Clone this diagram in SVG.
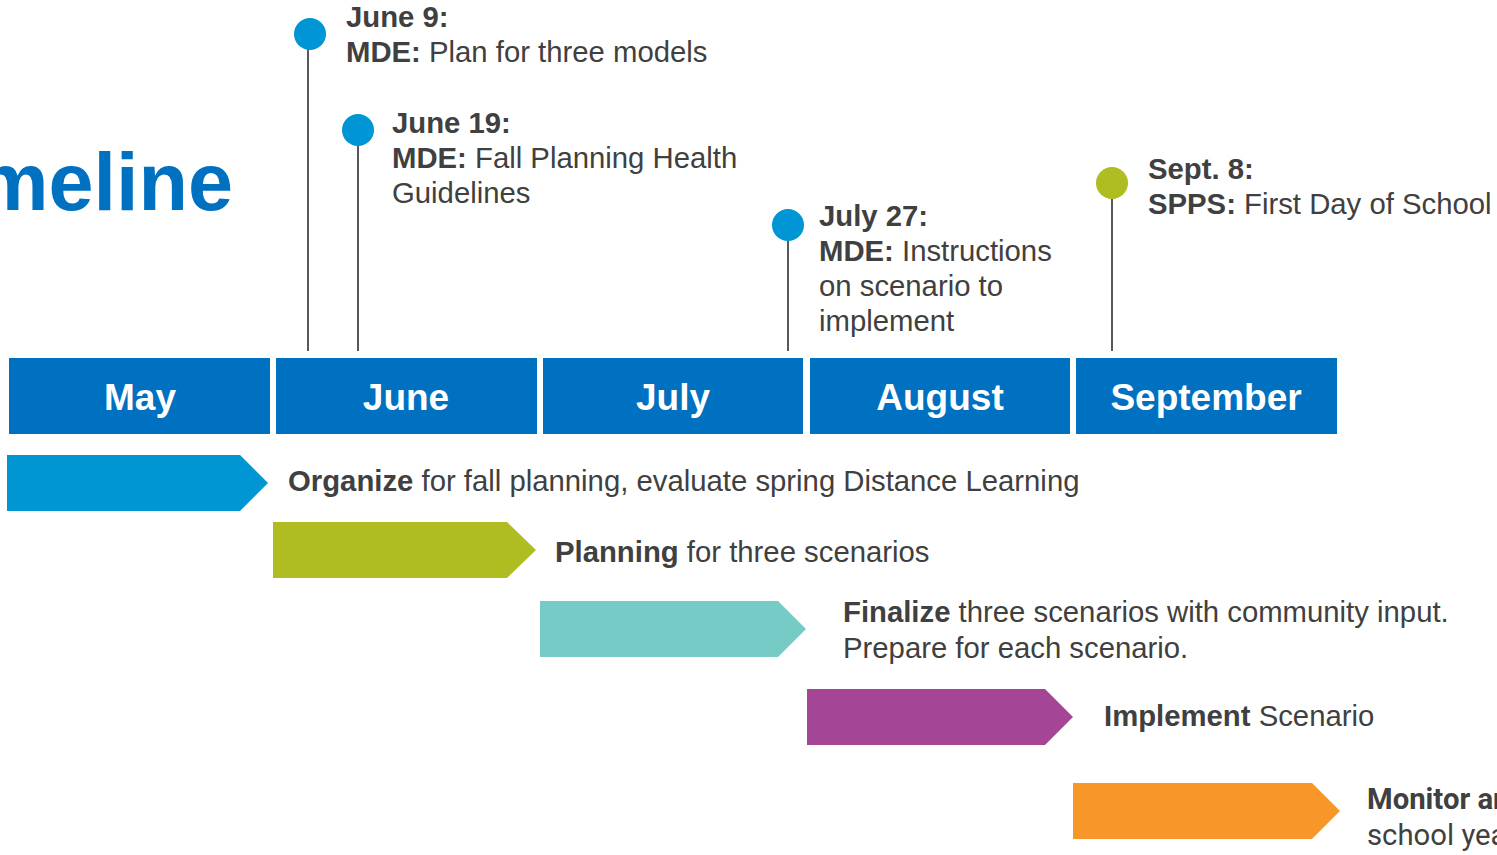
<svg xmlns="http://www.w3.org/2000/svg" width="1497" height="855" viewBox="0 0 1497 855">
<style>
.t{font-family:"Liberation Sans",Arial,sans-serif;font-size:29.3px;fill:#404040}
.b{font-weight:bold}
.m{font-family:"Liberation Sans",Arial,sans-serif;font-size:37px;font-weight:bold;fill:#fff;text-anchor:middle}
.mon{fill:#0070C0}
.pin{stroke:#595959;stroke-width:2;fill:none}
</style>
<rect width="1497" height="855" fill="#fff"/>
<text id="title" x="233" y="210" font-family="Liberation Sans,Arial,sans-serif" font-weight="bold" font-size="81" fill="#0070C0" text-anchor="end">meline</text>
<g id="months">
<g id="may"><rect class="mon" x="9" y="358" width="261" height="76"/><text class="m" x="140" y="410">May</text></g>
<g id="june"><rect class="mon" x="276" y="358" width="261" height="76"/><text class="m" x="406" y="410">June</text></g>
<g id="july"><rect class="mon" x="543" y="358" width="260" height="76"/><text class="m" x="673" y="410">July</text></g>
<g id="august"><rect class="mon" x="810" y="358" width="260" height="76"/><text class="m" x="940" y="410">August</text></g>
<g id="september"><rect class="mon" x="1076" y="358" width="261" height="76"/><text class="m" x="1206" y="410">September</text></g>
</g>
<g id="connectors">
<line class="pin" x1="308" y1="34" x2="308" y2="351"/>
<line class="pin" x1="358" y1="130" x2="358" y2="351"/>
<line class="pin" x1="788" y1="225" x2="788" y2="351"/>
<line class="pin" x1="1112" y1="183" x2="1112" y2="351"/>
</g>
<g id="june9"><circle cx="310" cy="34" r="16" fill="#0096D6"/>
<text class="t"><tspan class="b" x="346" y="27">June 9:</tspan><tspan x="346" y="62"><tspan class="b">MDE:</tspan> Plan for three models</tspan></text></g>
<g id="june19"><circle cx="358" cy="130" r="16" fill="#0096D6"/>
<text class="t"><tspan class="b" x="392" y="133">June 19:</tspan><tspan x="392" y="168"><tspan class="b">MDE:</tspan> Fall Planning Health</tspan><tspan x="392" y="203">Guidelines</tspan></text></g>
<g id="july27"><circle cx="788" cy="225" r="16" fill="#0096D6"/>
<text class="t"><tspan class="b" x="819" y="226">July 27:</tspan><tspan x="819" y="261"><tspan class="b">MDE:</tspan> Instructions</tspan><tspan x="819" y="296">on scenario to</tspan><tspan x="819" y="331">implement</tspan></text></g>
<g id="sept8"><circle cx="1112" cy="183" r="16" fill="#AFBD22"/>
<text class="t"><tspan class="b" x="1148" y="179">Sept. 8:</tspan><tspan x="1148" y="214"><tspan class="b">SPPS:</tspan> First Day of School</tspan></text></g>
<g id="organize"><polygon points="7,455 240,455 268,483 240,511 7,511" fill="#0095D3"/>
<text class="t" x="288" y="491"><tspan class="b">Organize</tspan> for fall planning, evaluate spring Distance Learning</text></g>
<g id="planning"><polygon points="273,522 507,522 536,550 507,578 273,578" fill="#AFBD22"/>
<text class="t" x="555" y="562"><tspan class="b">Planning</tspan> for three scenarios</text></g>
<g id="finalize"><polygon points="540,601 778,601 806,629 778,657 540,657" fill="#76CBC6"/>
<text class="t"><tspan x="843" y="622"><tspan class="b">Finalize</tspan> three scenarios with community input.</tspan><tspan x="843" y="658">Prepare for each scenario.</tspan></text></g>
<g id="implement"><polygon points="807,689 1045,689 1073,717 1045,745 807,745" fill="#A54596"/>
<text class="t" x="1104" y="726"><tspan class="b">Implement</tspan> Scenario</text></g>
<g id="monitor"><polygon points="1073,783 1312,783 1340,811 1312,839 1073,839" fill="#F7972A"/>
<text class="t" style="font-family:Roboto,sans-serif"><tspan x="1367" y="809" class="b">Monitor and</tspan><tspan x="1367" y="845">school year</tspan></text></g>
</svg>
